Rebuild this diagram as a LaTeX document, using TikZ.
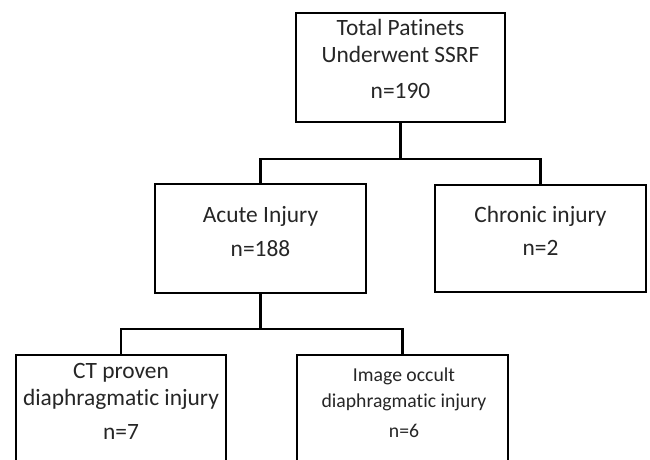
\documentclass[tikz,border=0pt]{standalone}
\usepackage{fontspec}
\setmainfont[Ligatures=NoCommon]{Carlito}
\begin{document}
\begin{tikzpicture}[x=1pt,y=-1pt,
  box/.style={draw=black,line width=2.6pt,fill=white,inner sep=0pt},
  conn/.style={draw=black,line width=2.6pt},
  txt/.style={anchor=base,inner sep=0pt,text=black!85,font=\fontsize{23.4}{26}\selectfont},
  smalltxt/.style={anchor=base,inner sep=0pt,text=black!85,font=\fontsize{19.7}{22}\selectfont}]
\clip (0,0) rectangle (650,459);
\fill[white] (0,0) rectangle (650,459);
% boxes
\node[box,minimum width=209pt,minimum height=109pt] (top) at (400.5,67.5) {};
\node[box,minimum width=211pt,minimum height=109pt] (acute) at (260.5,238.5) {};
\node[box,minimum width=211pt,minimum height=107pt] (chronic) at (540.5,238.5) {};
\node[box,minimum width=210pt,minimum height=130pt] (ct) at (121,420) {};
\node[box,minimum width=211pt,minimum height=130pt] (occ) at (402.5,420) {};
% texts
\node[txt] (t1) at (400.5,35) {Total Patinets};
\node[txt] (t2) at (400.5,62) {Underwent SSRF};
\node[txt] (t3) at (400.5,98) {n=190};
\node[txt] (a1) at (260.5,222) {Acute Injury};
\node[txt] (a2) at (260.5,256) {n=188};
\node[txt] (c1) at (540.5,222) {Chronic injury};
\node[txt] (c2) at (540.5,255) {n=2};
\node[txt] (d1) at (121,378) {CT proven};
\node[txt] (d2) at (121,405) {diaphragmatic injury};
\node[txt] (d3) at (121,439) {n=7};
\node[smalltxt] (o1) at (404,381) {Image occult};
\node[smalltxt] (o2) at (404,407) {diaphragmatic injury};
\node[smalltxt] (o3) at (404,437) {n=6};
% connectors
\coordinate (j1) at (400.5,159);
\coordinate (j2) at (260.5,329);
\draw[conn] (top.south) -- (j1);
\draw[conn] (acute.north) |- (j1) -| (chronic.north);
\draw[conn] (acute.south) -- (j2);
\draw[conn] (ct.north) |- (j2) -| (occ.north);
\end{tikzpicture}
\end{document}
